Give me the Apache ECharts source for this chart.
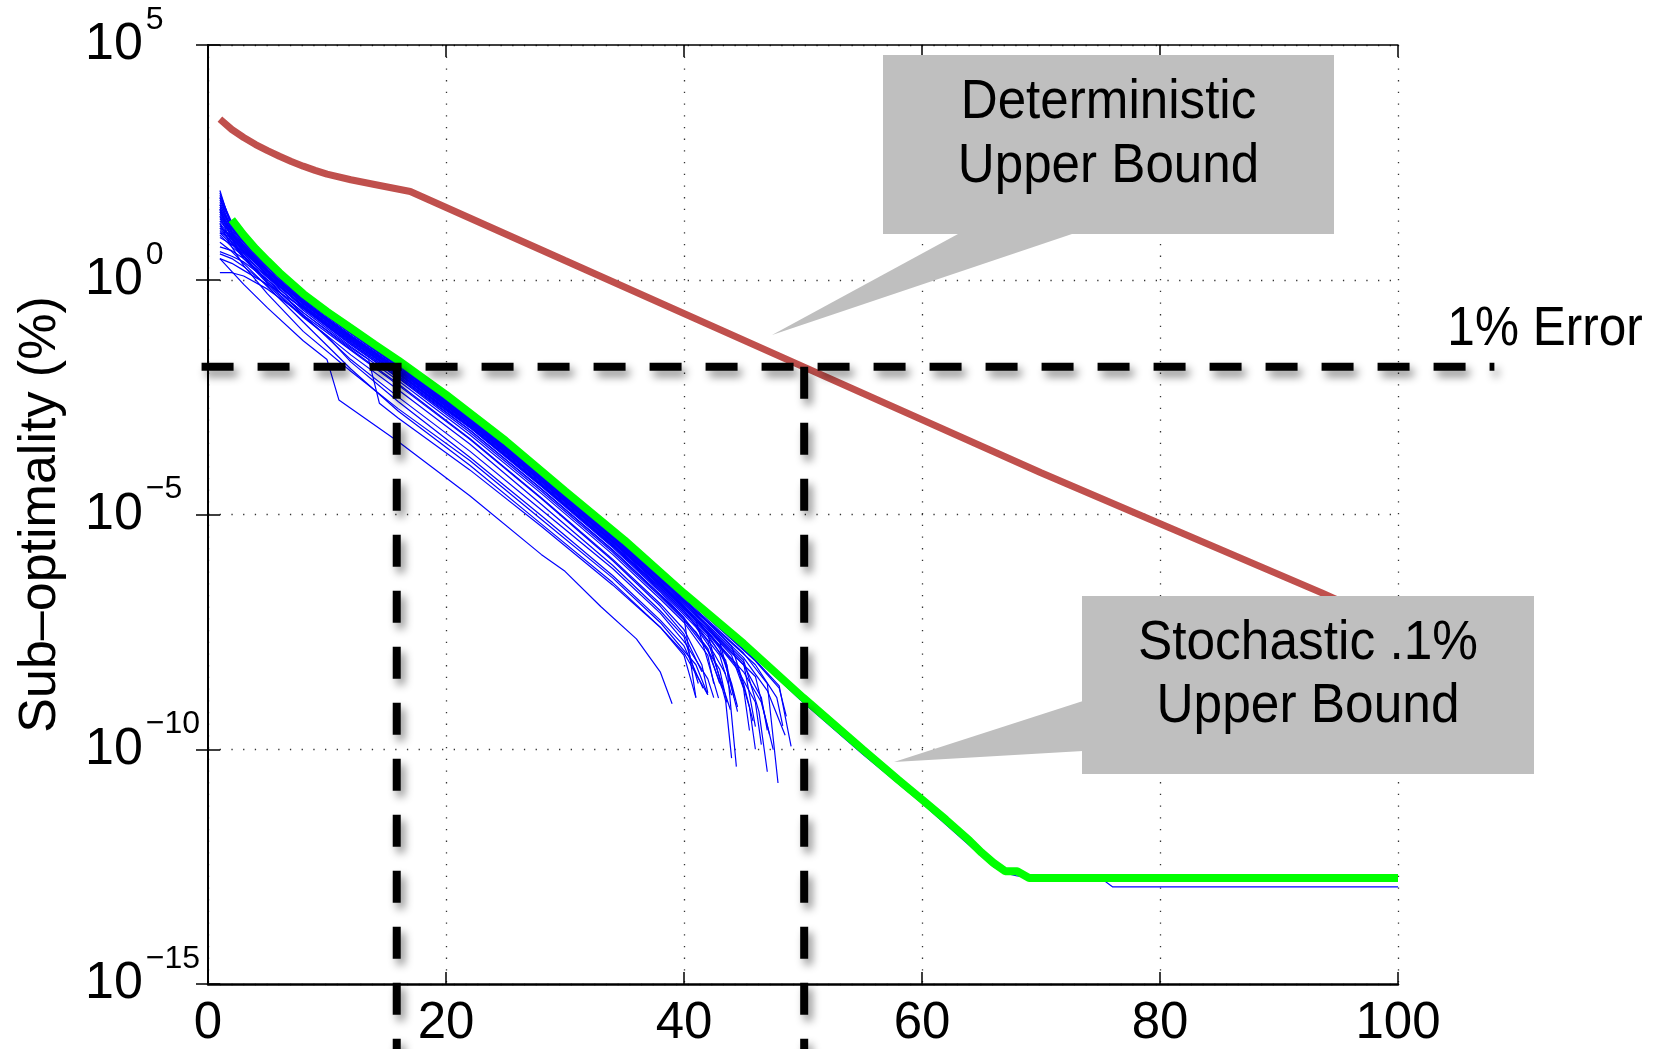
<!DOCTYPE html>
<html><head><meta charset="utf-8">
<script src="https://cdn.jsdelivr.net/npm/echarts@6/dist/echarts.min.js"></script>
<style>html,body{margin:0;padding:0;background:#fff}#c{width:1659px;height:1049px}</style>
</head><body><div id="c"></div>
<script>
// ---- data (y values given as log10 of sub-optimality %) ----
const xTickValues = [0, 20, 40, 60, 80, 100];
const yTickExponents = [-15, -10, -5, 0, 5];
const yAxisTitle = 'Sub–optimality (%)';
const errorLabel = '1% Error';
const detLabel = ['Deterministic', 'Upper Bound'];
const stoLabel = ['Stochastic .1%', 'Upper Bound'];

const deterministicLog = [[1,3.42],[2,3.2],[3,3.03],[4,2.88],[5,2.75],[6,2.63],[7,2.52],[8,2.42],[9,2.33],[10,2.25],[12,2.13],[14,2.03],[17,1.88],[30,0.41],[50,-1.85],[70,-4.11],[93.6,-6.67],[100,-7.4]];

const stochasticLog = [[2,1.28],[3,0.95],[4,0.66],[5,0.40],[6,0.15],[8,-0.30],[10,-0.68],[12,-1.03],[14,-1.38],[16,-1.72],[20,-2.45],[25,-3.43],[30,-4.5],[35,-5.55],[40,-6.68],[45,-7.75],[50,-8.9],[55,-10.0],[58,-10.65],[60,-11.07],[62,-11.5],[64,-11.95],[65,-12.2],[66,-12.42],[67,-12.6],[68,-12.6],[69,-12.74],[100,-12.74]];

const run01 = [[1,1.7],[2,1.2],[3,0.88],[5,0.33],[8,-0.36],[12,-1.08],[16,-1.78],[22,-2.9],[28,-4.13],[34,-5.4],[40,-6.74],[46,-8.05],[50,-9.0],[55,-10.1],[60,-11.15],[64,-12.05],[66,-12.5],[67,-12.64],[68,-12.7],[70,-12.74],[75,-12.74],[76,-12.93],[100,-12.93]];
const run02 = [[1,1.9],[2,1.1],[3,0.8],[5,0.3],[8,-0.4],[12,-1.12],[16,-1.82],[22,-2.95],[28,-4.2],[34,-5.48],[38,-6.38],[41,-7.1],[43,-7.7],[44.5,-9.2]];
const run03 = [[1,1.55],[2,1.0],[3,0.7],[5,0.2],[8,-0.45],[12,-1.2],[16,-1.9],[22,-3.0],[28,-4.25],[34,-5.55],[38,-6.45],[40,-6.95],[42,-7.55],[43.5,-8.97],[44,-10.19]];
const run04 = [[1,1.3],[2,0.95],[3,0.62],[5,0.15],[8,-0.5],[12,-1.25],[16,-1.95],[22,-3.08],[28,-4.3],[34,-5.6],[38,-6.5],[41,-7.25],[42.9,-8.91]];
const run05 = [[1,1.0],[2,0.75],[3,0.55],[5,0.05],[8,-0.55],[12,-1.3],[16,-2.0],[22,-3.12],[28,-4.35],[34,-5.65],[38,-6.55],[40,-7.05],[42,-7.7],[43.9,-9.16]];
const run06 = [[1,0.45],[2,0.35],[3,0.2],[5,-0.1],[8,-0.6],[12,-1.35],[16,-2.05],[22,-3.15],[28,-4.4],[34,-5.7],[38,-6.65],[40,-7.2],[41,-8.9]];
const run07 = [[1,0.45],[3,-0.1],[5,-0.6],[8,-1.3],[10,-1.7],[11,-2.56],[16,-3.45],[22,-4.6],[28,-5.85],[30,-6.21],[33,-6.96],[36,-7.65],[38,-8.35],[39,-9.03]];
const run08 = [[1,1.1],[3,0.5],[5,-0.05],[8,-0.7],[12,-1.45],[13.5,-1.7],[14.4,-2.63],[16,-2.95],[22,-4.05],[28,-5.25],[34,-6.5],[38,-7.4],[40,-7.95],[42,-8.84]];
const run09 = [[1,0.8],[2,0.6],[3,0.35],[5,-0.15],[8,-0.9],[12,-1.9],[16,-2.8],[22,-3.95],[28,-5.2],[34,-6.45],[38,-7.4],[40,-8.0],[41,-8.9]];
const run10 = [[1,1.2],[2,0.7],[3,0.3],[5,-0.3],[8,-1.1],[12,-1.95],[16,-2.75],[22,-3.85],[28,-5.1],[34,-6.35],[38,-7.3],[41,-8.2],[42,-8.84]];
const run11 = [[1,1.45],[2,0.9],[3,0.45],[5,0.0],[8,-0.75],[12,-1.7],[16,-2.5],[22,-3.65],[28,-4.9],[34,-6.15],[38,-7.1],[40,-7.7],[42,-8.5],[42.5,-8.9]];
const run12 = [[1,1.85],[2,1.15],[3,0.85],[5,0.32],[8,-0.38],[12,-1.1],[16,-1.8],[22,-2.93],[28,-4.16],[34,-5.43],[38,-6.33],[42,-7.25],[45,-7.95],[47,-8.6],[47.9,-10.72]];
const run13 = [[1,1.6],[2,1.05],[3,0.75],[5,0.25],[8,-0.42],[12,-1.15],[16,-1.86],[22,-2.98],[28,-4.22],[34,-5.5],[38,-6.4],[42,-7.35],[45,-8.1],[46.3,-9.2],[47,-10.48]];
const run14 = [[1,1.5],[2,0.98],[3,0.68],[5,0.18],[8,-0.48],[12,-1.22],[16,-1.92],[22,-3.05],[28,-4.28],[34,-5.57],[38,-6.48],[42,-7.45],[44,-8.0],[45,-8.7],[45.5,-9.6]];
const run15 = [[1,1.4],[2,0.92],[3,0.6],[5,0.1],[8,-0.55],[12,-1.28],[16,-1.98],[22,-3.1],[28,-4.33],[34,-5.62],[38,-6.55],[42,-7.55],[43.6,-8.2],[44.4,-10.37]];
const run16 = [[1,1.25],[2,1.1],[3,0.8],[5,0.28],[8,-0.4],[12,-1.13],[16,-1.84],[22,-2.96],[28,-4.2],[34,-5.47],[38,-6.37],[42,-7.3],[45,-8.05],[47,-8.75],[48.5,-9.7]];
const run17 = [[1,1.15],[2,0.85],[3,0.58],[5,0.12],[8,-0.52],[12,-1.25],[16,-1.95],[22,-3.07],[28,-4.3],[34,-5.58],[38,-6.5],[41,-7.2],[43,-7.85],[44,-8.6],[44.5,-9.1]];
const run18 = [[1,0.95],[2,0.7],[3,0.5],[5,0.08],[8,-0.58],[12,-1.32],[16,-2.02],[22,-3.14],[28,-4.38],[34,-5.66],[38,-6.6],[41,-7.35],[43,-8.0],[44,-8.85]];
const run19 = [[1,1.75],[2,1.18],[3,0.87],[5,0.34],[8,-0.35],[12,-1.07],[16,-1.77],[22,-2.9],[28,-4.12],[34,-5.38],[38,-6.28],[42,-7.2],[46,-8.1],[48,-8.65],[49,-9.94]];
const run20 = [[1,1.65],[2,1.12],[3,0.82],[5,0.3],[8,-0.4],[12,-1.14],[16,-1.85],[22,-2.97],[28,-4.21],[34,-5.5],[38,-6.42],[42,-7.38],[45,-8.15],[46,-9.52]];
const run21 = [[1,1.35],[2,1.0],[3,0.7],[5,0.2],[8,-0.46],[12,-1.2],[16,-1.9],[22,-3.02],[28,-4.26],[34,-5.54],[38,-6.46],[42,-7.45],[46,-8.45],[47.5,-10.01]];
const run22 = [[1,0.6],[2,0.5],[3,0.38],[5,0.0],[8,-0.62],[12,-1.38],[16,-2.08],[22,-3.2],[28,-4.45],[34,-5.75],[38,-6.7],[40,-7.2],[42,-7.85],[43,-8.6]];
const run23 = [[1,1.05],[2,0.8],[3,0.55],[5,0.05],[8,-0.65],[12,-1.42],[16,-2.15],[22,-3.3],[28,-4.55],[34,-5.85],[38,-6.8],[40,-7.3],[42,-8.0],[42.5,-8.6]];
const run24 = [[1,1.5],[2,0.85],[3,0.5],[5,-0.05],[8,-0.7],[12,-1.48],[16,-2.22],[22,-3.38],[28,-4.64],[34,-5.95],[38,-6.9],[40,-7.45],[41.5,-8.2],[42,-8.8]];
const run25 = [[1,1.2],[2,0.88],[3,0.6],[5,0.12],[8,-0.5],[12,-1.24],[16,-1.94],[22,-3.06],[28,-4.3],[34,-5.58],[38,-6.52],[42,-7.5],[44.5,-8.3],[46,-9.0],[46.5,-9.9]];
const run26 = [[1,1.8],[2,1.22],[3,0.9],[5,0.36],[8,-0.33],[12,-1.06],[16,-1.76],[22,-2.89],[28,-4.11],[34,-5.37],[38,-6.27],[42,-7.2],[46,-8.12],[48,-8.7],[48.6,-9.3]];
const run27 = [[1,0.7],[2,0.62],[3,0.45],[5,0.05],[8,-0.56],[12,-1.3],[16,-2.0],[22,-3.12],[28,-4.36],[34,-5.64],[38,-6.58],[42,-7.6],[43.5,-8.1],[44.2,-8.9]];
const run28 = [[1,1.45],[2,1.02],[3,0.74],[5,0.22],[8,-0.44],[12,-1.18],[16,-1.88],[22,-3.0],[28,-4.24],[34,-5.52],[38,-6.44],[42,-7.4],[45,-8.2],[46.5,-8.9],[47,-9.6]];
const run29 = [[1,1.1],[2,0.95],[3,0.72],[5,0.2],[8,-0.5],[12,-1.27],[16,-1.98],[22,-3.12],[28,-4.38],[34,-5.68],[38,-6.62],[41,-7.4],[42.5,-7.95],[43.5,-8.4]];
const run30 = [[1,0.15],[2,0.15],[3,0.08],[5,-0.2],[8,-0.75],[12,-1.5],[16,-2.25],[22,-3.4],[28,-4.66],[34,-5.98],[38,-6.95],[40,-7.55],[41.5,-8.35]];
const run31 = [[1,1.6],[2,1.08],[3,0.78],[5,0.27],[8,-0.41],[12,-1.14],[16,-1.84],[22,-2.96],[28,-4.19],[34,-5.46],[38,-6.36],[42,-7.3],[44,-7.8],[45,-8.6],[45.8,-9.4]];
const run32 = [[1,1.35],[2,0.78],[3,0.45],[5,-0.08],[8,-0.78],[12,-1.6],[16,-2.35],[22,-3.5],[28,-4.78],[34,-6.08],[38,-7.05],[40,-7.6],[41.2,-8.6]];
const run33 = [[1,0.9],[2,0.75],[3,0.6],[5,0.2],[8,-0.47],[12,-1.21],[16,-1.91],[22,-3.03],[28,-4.27],[34,-5.56],[38,-6.5],[42,-7.5],[44.5,-8.25],[45.5,-9.1],[46,-10.0]];
const run34 = [[1,1.75],[2,1.0],[3,0.65],[5,0.1],[8,-0.6],[12,-1.38],[16,-2.1],[22,-3.25],[28,-4.5],[34,-5.8],[38,-6.75],[40,-7.25],[42,-7.9],[43.2,-8.7]];
const run35 = [[1,1.25],[2,0.95],[3,0.66],[5,0.16],[8,-0.49],[12,-1.23],[16,-1.93],[22,-3.05],[28,-4.29],[34,-5.58],[38,-6.5],[42,-7.5],[45,-8.35],[46.5,-9.0],[47.2,-9.7]];
const run36 = [[1,0.55],[2,0.45],[3,0.28],[5,-0.12],[8,-0.8],[10,-1.2],[12,-1.75],[16,-2.6],[22,-3.78],[28,-5.02],[34,-6.3],[38,-7.25],[40,-7.8],[41.6,-8.7]];
const run37 = [[1,1.5],[2,1.15],[3,0.84],[5,0.31],[8,-0.39],[12,-1.11],[16,-1.81],[22,-2.94],[28,-4.17],[34,-5.44],[38,-6.35],[42,-7.28],[46,-8.2],[47.8,-8.9],[48.3,-9.5]];
const run38 = [[1,1.0],[2,0.9],[3,0.62],[5,0.1],[8,-0.58],[12,-1.34],[16,-2.05],[22,-3.2],[28,-4.45],[34,-5.76],[38,-6.72],[41,-7.5],[43,-8.3],[43.6,-9.0]];
const blueRunsLog = [run01,run02,run03,run04,run05,run06,run07,run08,run09,run10,run11,run12,run13,run14,run15,run16,run17,run18,run19,run20,
  run21,run22,run23,run24,run25,run26,run27,run28,run29,run30,run31,run32,run33,run34,run35,run36,run37,run38];

const errorLevel = 0.014;            // 1% error threshold line (value on y axis)
const errorLineX = [-0.54, 108.1];    // horizontal extent of the dashed threshold line
const crossingX = [15.86, 50.1];      // where stochastic / deterministic bounds reach the threshold
const dashBottom = 1e-17;

// ---- layout ----
const GRID = { left: 208, top: 45, width: 1190, height: 939 };
const X_MIN = 0, X_MAX = 100, Y_MIN_EXP = -15, Y_MAX_EXP = 5;
const pxPerX = GRID.width / (X_MAX - X_MIN);
const pxPerDec = GRID.height / (Y_MAX_EXP - Y_MIN_EXP);
// a wider, invisible overlay grid with the same scale, so the annotation lines may run past the plot box
const OV_MIN_EXP = -16;
const OV = { left: 188, top: GRID.top, width: 1330, height: pxPerDec * (Y_MAX_EXP - OV_MIN_EXP) };
const ovXMin = X_MIN - (GRID.left - OV.left) / pxPerX;
const ovXMax = ovXMin + OV.width / pxPerX;

// ---- build ----
const toVal = p => [p[0], Math.pow(10, p[1])];
const FONT = '"Liberation Sans", Arial, Helvetica, sans-serif';
const dashStyle = {
  color: '#000', width: 8, type: [32, 24], cap: 'butt',
  shadowBlur: 8, shadowColor: 'rgba(0,0,0,0.45)', shadowOffsetX: 4, shadowOffsetY: 6
};

const series = [];
blueRunsLog.forEach((r, i) => series.push({
  type: 'line', name: 'run' + i, data: r.map(toVal), showSymbol: false, symbol: 'none',
  lineStyle: { color: '#0000ff', width: 1.2 }, z: 2, animation: false, silent: true
}));
series.push({ type: 'line', name: 'stochastic', data: stochasticLog.map(toVal), symbol: 'none',
  lineStyle: { color: '#00ff00', width: 8 }, z: 3, animation: false, silent: true });
series.push({ type: 'line', name: 'deterministic', data: deterministicLog.map(toVal), symbol: 'none',
  lineStyle: { color: '#c0504d', width: 7 }, z: 3, animation: false, silent: true });
series.push({ type: 'line', name: 'err', xAxisIndex: 2, yAxisIndex: 2, clip: false, data: errorLineX.map(x => [x, errorLevel]), symbol: 'none',
  lineStyle: dashStyle, z: 5, animation: false, silent: true });
crossingX.forEach(x => series.push({ type: 'line', xAxisIndex: 2, yAxisIndex: 2, clip: false, data: [[x, errorLevel], [x, dashBottom]], symbol: 'none',
  lineStyle: dashStyle, z: 5, animation: false, silent: true }));

const expLabel = v => {
  const e = Math.round(Math.log10(v));
  return '{b|10}{s|' + (e < 0 ? '\u2212' + (-e) : e) + '}';
};

function callout(box, tri, lines, lineY, scaleX) {
  const els = [
    { type: 'polygon', shape: { points: tri }, style: { fill: '#bfbfbf' }, z: 100 },
    { type: 'rect', shape: { x: box[0], y: box[1], width: box[2] - box[0], height: box[3] - box[1] }, style: { fill: '#bfbfbf' }, z: 100 }
  ];
  lines.forEach((t, i) => els.push({ type: 'text', x: (box[0] + box[2]) / 2, y: lineY[i], scaleX: scaleX, z: 101,
    style: { text: t, font: '55px ' + FONT, fill: '#000', textAlign: 'center', textVerticalAlign: 'middle' } }));
  return els;
}

const chart = echarts.init(document.getElementById('c'), null, { renderer: 'canvas' });
const tick = { inside: true, length: 12, lineStyle: { color: '#000', width: 1.5 } };
const dots = { show: true, lineStyle: { color: '#333', width: 1.3, type: [1.3, 10.4] } };
chart.setOption({
  backgroundColor: '#fff',
  animation: false,
  grid: [
    { left: GRID.left, top: GRID.top, width: GRID.width, height: GRID.height, containLabel: false },
    { left: OV.left, top: OV.top, width: OV.width, height: OV.height, containLabel: false }
  ],
  xAxis: [
    { type: 'value', gridIndex: 0, min: X_MIN, max: X_MAX, interval: 20, position: 'bottom',
      axisLine: { lineStyle: { color: '#000', width: 2.5 } }, axisTick: tick,
      axisLabel: { fontSize: 51, fontFamily: FONT, color: '#000', margin: 14, formatter: v => String(v) },
      splitLine: dots },
    { type: 'value', gridIndex: 0, min: X_MIN, max: X_MAX, interval: 20, position: 'top',
      axisLine: { lineStyle: { color: '#000', width: 1.5 } }, axisTick: tick,
      axisLabel: { show: false }, splitLine: { show: false } },
    { type: 'value', gridIndex: 1, min: ovXMin, max: ovXMax, show: false, splitLine: { show: false } }
  ],
  yAxis: [
    { type: 'log', gridIndex: 0, logBase: 10, min: Math.pow(10, Y_MIN_EXP), max: Math.pow(10, Y_MAX_EXP), interval: 5, position: 'left',
      name: yAxisTitle, nameLocation: 'middle', nameGap: 141,
      nameTextStyle: { fontSize: 52, fontFamily: FONT, color: '#000' },
      axisLine: { show: true, lineStyle: { color: '#000', width: 2 } },
      axisTick: tick, minorTick: { show: false },
      axisLabel: { align: 'left', margin: 123, formatter: expLabel,
        rich: { b: { fontSize: 52, fontFamily: FONT, color: '#000' },
                s: { fontSize: 32, fontFamily: FONT, color: '#000', padding: [0, 0, 50, 3] } } },
      splitLine: dots },
    { type: 'log', gridIndex: 0, logBase: 10, min: Math.pow(10, Y_MIN_EXP), max: Math.pow(10, Y_MAX_EXP), interval: 5, position: 'right',
      axisLine: { show: true, lineStyle: { color: '#000', width: 1.5 } }, axisTick: tick,
      axisLabel: { show: false }, splitLine: { show: false } },
    { type: 'log', gridIndex: 1, logBase: 10, min: Math.pow(10, OV_MIN_EXP), max: Math.pow(10, Y_MAX_EXP), show: false, splitLine: { show: false } }
  ],
  series: series,
  graphic: [
    ...callout([883, 55, 1334, 234], [[958, 234], [1072, 234], [772, 335]], detLabel, [103, 167], 0.93),
    ...callout([1082, 596, 1534, 774], [[1083, 701], [1083, 751], [894, 762]], stoLabel, [644, 707], 0.935),
    { type: 'text', x: 1545, y: 330, scaleX: 0.9, z: 101,
      style: { text: errorLabel, font: '55px ' + FONT, fill: '#000', textAlign: 'center', textVerticalAlign: 'middle' } }
  ]
});
</script></body></html>
